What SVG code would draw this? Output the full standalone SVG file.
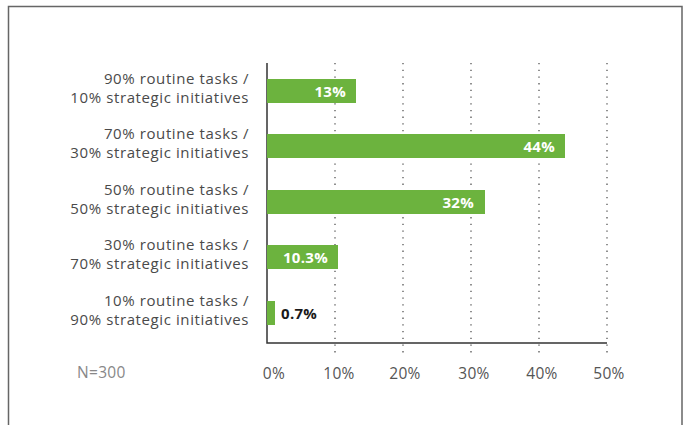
<svg xmlns="http://www.w3.org/2000/svg" width="688" height="425" viewBox="0 0 688 425">
<style>
.cat{font-family:"Open Sans","Liberation Sans",Arial,sans-serif;font-size:15px;fill:#4a4a4a;text-anchor:end;letter-spacing:0.6px}
.tick{font-family:"Open Sans","Liberation Sans",Arial,sans-serif;font-size:15.5px;fill:#555;text-anchor:middle;letter-spacing:0.3px}
.val{font-family:"Open Sans","Liberation Sans",Arial,sans-serif;font-size:15px;font-weight:bold;fill:#fff;text-anchor:end;letter-spacing:0.3px}
.grid{stroke:#555;stroke-width:1.3;stroke-dasharray:1.3 5.4}
.bar{fill:#6cb33e}
</style>
<rect width="688" height="425" fill="#fff"/>
<path d="M8.5,425 V6.5 H682 V425" fill="none" stroke="#666" stroke-width="1.5"/>
<g id="grid">
<line class="grid" x1="335" y1="63" x2="335" y2="353"/>
<line class="grid" x1="403" y1="63" x2="403" y2="353"/>
<line class="grid" x1="471" y1="63" x2="471" y2="353"/>
<line class="grid" x1="539" y1="63" x2="539" y2="353"/>
<line class="grid" x1="607" y1="63" x2="607" y2="353"/>
</g>
<g id="axes" stroke="#333" stroke-width="1.5" fill="none">
<path d="M267,63 V343 H607"/>
</g>
<g id="bar1">
<text class="cat" x="249" y="84">90% routine tasks /</text>
<text class="cat" x="249" y="102.5">10% strategic initiatives</text>
<rect class="bar" x="267" y="79" width="89" height="24"/>
<text class="val" x="346" y="96.5">13%</text>
</g>
<g id="bar2">
<text class="cat" x="249" y="139">70% routine tasks /</text>
<text class="cat" x="249" y="157.5">30% strategic initiatives</text>
<rect class="bar" x="267" y="134" width="298" height="24"/>
<text class="val" x="555" y="151.5">44%</text>
</g>
<g id="bar3">
<text class="cat" x="249" y="195">50% routine tasks /</text>
<text class="cat" x="249" y="213.5">50% strategic initiatives</text>
<rect class="bar" x="267" y="190" width="218" height="24"/>
<text class="val" x="474" y="207.5">32%</text>
</g>
<g id="bar4">
<text class="cat" x="249" y="250">30% routine tasks /</text>
<text class="cat" x="249" y="268.5">70% strategic initiatives</text>
<rect class="bar" x="267" y="245" width="71" height="24"/>
<text class="val" x="328" y="262.5">10.3%</text>
</g>
<g id="bar5">
<text class="cat" x="249" y="306">10% routine tasks /</text>
<text class="cat" x="249" y="324.5">90% strategic initiatives</text>
<rect class="bar" x="267" y="301" width="8" height="24"/>
<text class="val" x="281" y="318.5" style="fill:#1a1a1a;text-anchor:start">0.7%</text>
</g>
<g id="ticks">
<text class="tick" x="274" y="379">0%</text>
<text class="tick" x="339" y="379">10%</text>
<text class="tick" x="405" y="379">20%</text>
<text class="tick" x="474" y="379">30%</text>
<text class="tick" x="542" y="379">40%</text>
<text class="tick" x="609" y="379">50%</text>
</g>
<text id="n" x="77" y="378" style="font-family:'Open Sans','Liberation Sans',Arial,sans-serif;font-size:15.5px;fill:#888;letter-spacing:0.3px">N=300</text>
</svg>
